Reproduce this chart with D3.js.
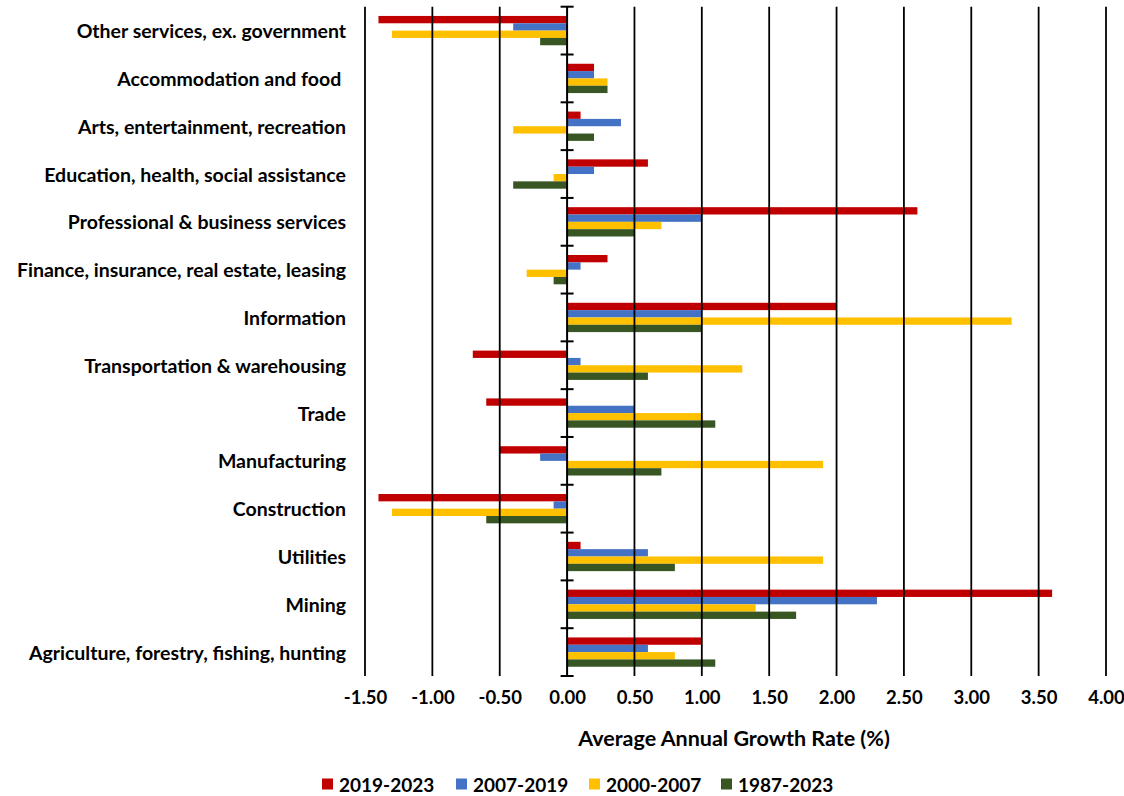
<!DOCTYPE html>
<html>
<head>
<meta charset="utf-8">
<script src="https://cdn.jsdelivr.net/npm/d3@7"></script>
<style>
  html, body { margin: 0; padding: 0; background: #fff; }
  svg { display: block; font-family: Lato, "Open Sans", sans-serif; font-weight: bold; }
</style>
</head>
<body>
<svg id="chart" width="1124" height="796"></svg>
<script>
// Industries, listed top to bottom
const industries = [
  "Other services, ex. government",
  "Accommodation and food ",
  "Arts, entertainment, recreation",
  "Education, health, social assistance",
  "Professional & business services",
  "Finance, insurance, real estate, leasing",
  "Information",
  "Transportation & warehousing",
  "Trade",
  "Manufacturing",
  "Construction",
  "Utilities",
  "Mining",
  "Agriculture, forestry, fishing, hunting"
];

const periods = ["2019-2023", "2007-2019", "2000-2007", "1987-2023"];
const periodColors = ["#C00000", "#4472C4", "#FFC000", "#375623"];

// Average annual growth rate (%) for each period, in industry order
const growth2019_2023 = [-1.4, 0.2, 0.1, 0.6, 2.6, 0.3, 2.0, -0.7, -0.6, -0.5, -1.4, 0.1, 3.6, 1.0];
const growth2007_2019 = [-0.4, 0.2, 0.4, 0.2, 1.0, 0.1, 1.0, 0.1, 0.5, -0.2, -0.1, 0.6, 2.3, 0.6];
const growth2000_2007 = [-1.3, 0.3, -0.4, -0.1, 0.7, -0.3, 3.3, 1.3, 1.0, 1.9, -1.3, 1.9, 1.4, 0.8];
const growth1987_2023 = [-0.2, 0.3, 0.2, -0.4, 0.5, -0.1, 1.0, 0.6, 1.1, 0.7, -0.6, 0.8, 1.7, 1.1];

const xTicks = [-1.5, -1.0, -0.5, 0, 0.5, 1.0, 1.5, 2.0, 2.5, 3.0, 3.5, 4.0];
const xTitle = "Average Annual Growth Rate (%)";

const seriesValues = [growth2019_2023, growth2007_2019, growth2000_2007, growth1987_2023];
const rows = industries.map((name, i) => ({
  name,
  values: periods.map((p, j) => ({ period: p, color: periodColors[j], value: seriesValues[j][i] }))
}));

const svg = d3.select("#chart");
const plotTop = 6.7, plotBottom = 676;

const x = d3.scaleLinear().domain([-1.5, 4]).range([365, 1106]);
const y = d3.scaleBand().domain(industries).range([plotTop, plotBottom])
  .paddingInner(0.387).paddingOuter(0.1935);
const yInner = d3.scaleBand().domain(periods).range([0, y.bandwidth()]).padding(0);

// Bars
const groups = svg.append("g").selectAll("g")
  .data(rows).join("g")
  .attr("transform", d => `translate(0,${y(d.name)})`);

groups.selectAll("rect")
  .data(d => d.values).join("rect")
  .attr("x", d => x(Math.min(0, d.value)))
  .attr("y", d => yInner(d.period))
  .attr("width", d => Math.abs(x(d.value) - x(0)))
  .attr("height", yInner.bandwidth())
  .attr("fill", d => d.color);

// Vertical gridlines
svg.append("g").selectAll("line")
  .data(xTicks.filter(t => t !== 0)).join("line")
  .attr("x1", d => x(d)).attr("x2", d => x(d))
  .attr("y1", plotTop).attr("y2", plotBottom)
  .attr("stroke", "#000").attr("stroke-width", 1.8);

// Zero axis with category separators
const x0 = x(0);
const axisG = svg.append("g");
axisG.append("line")
  .attr("x1", x0).attr("x2", x0).attr("y1", plotTop).attr("y2", plotBottom)
  .attr("stroke", "#000").attr("stroke-width", 2);
const bounds = industries.map(c => y(c) - y.step() * y.paddingInner() / 2);
bounds.push(plotBottom);
axisG.selectAll("line.sep")
  .data(bounds).join("line").attr("class", "sep")
  .attr("x1", x0 - 6.5).attr("x2", x0 + 6.5)
  .attr("y1", d => d).attr("y2", d => d)
  .attr("stroke", "#000").attr("stroke-width", 2);

// Category labels
svg.append("g").selectAll("text")
  .data(industries).join("text")
  .attr("x", 346)
  .attr("y", d => y(d) + y.bandwidth() / 2)
  .attr("text-anchor", "end")
  .attr("dominant-baseline", "central")
  .attr("font-size", 19.5)
  .attr("fill", "#000")
  .style("white-space", "pre")
  .text(d => d);

// X tick labels (plain hyphen for negatives)
const fmt = d3.format(".2f");
const xAxis = d3.axisBottom(x).tickValues(xTicks)
  .tickFormat(d => fmt(d).replace("\u2212", "-")).tickSize(0).tickPadding(0);
const xg = svg.append("g").attr("transform", `translate(0,${plotBottom})`).call(xAxis);
xg.select(".domain").remove();
xg.selectAll("text")
  .attr("y", 22)
  .attr("dy", "0.35em")
  .attr("font-size", 18.5)
  .attr("font-family", "Lato, 'Open Sans', sans-serif")
  .attr("font-weight", "bold")
  .attr("fill", "#000");

// Axis title
svg.append("text")
  .attr("x", 734).attr("y", 738)
  .attr("text-anchor", "middle").attr("dominant-baseline", "central")
  .attr("font-size", 21.5).attr("fill", "#000")
  .text(xTitle);

// Legend
const legendX = [322, 456, 589, 721];
const legend = svg.append("g").selectAll("g")
  .data(periods).join("g")
  .attr("transform", (d, i) => `translate(${legendX[i]},784)`);
legend.append("rect")
  .attr("x", 0).attr("y", -5.5).attr("width", 11).attr("height", 11)
  .attr("fill", (d, i) => periodColors[i]);
legend.append("text")
  .attr("x", 17).attr("y", 0)
  .attr("dominant-baseline", "central")
  .attr("font-size", 19).attr("fill", "#000")
  .text(d => d);
</script>
</body>
</html>
